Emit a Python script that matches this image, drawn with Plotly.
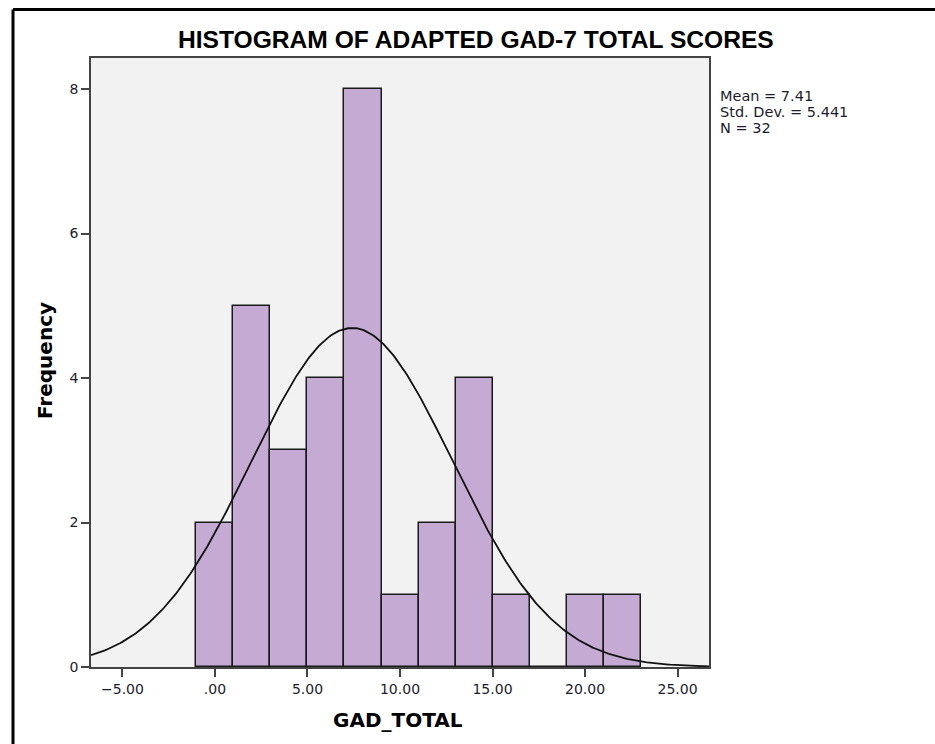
import numpy as np
import plotly.graph_objects as go

# Histogram bins (width 2) and frequencies of GAD_TOTAL
bin_centers = [0, 2, 4, 6, 8, 10, 12, 14, 16, 18, 20, 22]
frequencies = [2, 5, 3, 4, 8, 1, 2, 4, 1, 0, 1, 1]
bin_width = 2

# Summary statistics
mean_value = 7.41
std_dev = 5.441
n_cases = 32

x_tick_vals = [-5, 0, 5, 10, 15, 20, 25]
x_tick_text = ["\u22125.00", ".00", "5.00", "10.00", "15.00", "20.00", "25.00"]
y_tick_vals = [0, 2, 4, 6, 8]
y_tick_text = ["0", "2", "4", "6", "8"]

x_range = [-6.7, 26.7]
y_range = [0, 8.43]

# Fitted normal curve scaled to the histogram counts
curve_x = np.linspace(x_range[0], x_range[1], 400)
curve_y = n_cases * bin_width * np.exp(-0.5 * ((curve_x - mean_value) / std_dev) ** 2) / (std_dev * np.sqrt(2 * np.pi))

fig = go.Figure()
fig.add_trace(go.Bar(
    x=bin_centers, y=frequencies, width=bin_width,
    marker=dict(color="#C5ABD3", line=dict(color="#1a1a1a", width=1.5)),
    hoverinfo="x+y",
))
fig.add_trace(go.Scatter(
    x=curve_x, y=curve_y, mode="lines",
    line=dict(color="#111111", width=1.8), hoverinfo="skip",
))

tick_font = dict(family="DejaVu Sans", size=14, color="#1c1c2e")
fig.update_layout(
    width=935, height=744,
    margin=dict(l=91, r=226, t=58, b=77),
    paper_bgcolor="white", plot_bgcolor="#F2F2F2",
    showlegend=False, bargap=0,
    xaxis=dict(range=x_range, tickvals=x_tick_vals, ticktext=x_tick_text,
               ticks="outside", ticklen=8, tickwidth=1.5, tickcolor="#444",
               showline=True, linecolor="#444", linewidth=1.5, mirror=True,
               showgrid=False, zeroline=False, tickfont=tick_font),
    yaxis=dict(range=y_range, tickvals=y_tick_vals, ticktext=y_tick_text,
               ticks="outside", ticklen=8, tickwidth=1.5, tickcolor="#444",
               showline=True, linecolor="#444", linewidth=1.5, mirror=True,
               showgrid=False, zeroline=False, tickfont=tick_font),
)

annotations = [
    dict(text="<b>HISTOGRAM OF ADAPTED GAD-7 TOTAL SCORES</b>", x=0.623, y=1.0296,
         xanchor="center", yanchor="middle",
         font=dict(family="Liberation Sans", size=24.6, color="black")),
    dict(text="<b>GAD_TOTAL</b>", x=0.497, y=-0.087, xanchor="center", yanchor="middle",
         font=dict(family="DejaVu Sans", size=20, color="black")),
    dict(text="<b>Frequency</b>", x=-0.0745, y=0.504, xanchor="center", yanchor="middle",
         textangle=-90, font=dict(family="DejaVu Sans", size=20, color="black")),
]
stats_lines = [f"Mean = {mean_value:.2f}", f"Std. Dev. = {std_dev:.3f}", f"N = {n_cases}"]
for i, line in enumerate(stats_lines):
    annotations.append(dict(text=line, x=1.0145, y=(667 - 96 - 16 * i) / 609,
                            xanchor="left", yanchor="middle",
                            font=dict(family="DejaVu Sans", size=14.5, color="#1c1c2e")))
for a in annotations:
    a.update(xref="paper", yref="paper", showarrow=False)
fig.update_layout(annotations=annotations)

# Outer frame lines (left and top)
fig.add_shape(type="line", xref="paper", yref="paper",
              x0=-0.1262, x1=-0.1262, y0=-0.2, y1=1.0796,
              line=dict(color="black", width=3))
fig.add_shape(type="line", xref="paper", yref="paper",
              x0=-0.1262, x1=1.4, y0=1.0796, y1=1.0796,
              line=dict(color="black", width=3))

fig.write_html("out.html")
